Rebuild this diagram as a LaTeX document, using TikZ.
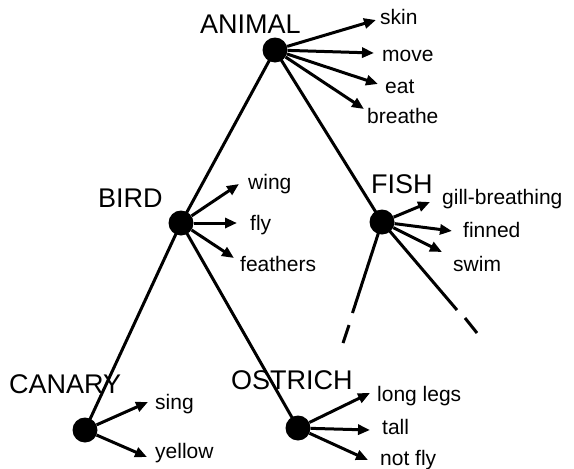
\documentclass[tikz,border=0pt]{standalone}
\usepackage{fontspec}
\setmainfont{Liberation Sans}
\usetikzlibrary{arrows.meta,positioning}

\begin{document}
\begin{tikzpicture}[
	x=1pt, y=-1pt,
	every node/.style={inner sep=0pt, anchor=base west},
	dot/.style={circle, fill=black, minimum size=25pt, anchor=center},
	concept/.style={font=\fontsize{27}{32}\selectfont},
	prop/.style={font=\fontsize{21}{25}\selectfont},
	link/.style={line width=3pt},
	arrow/.style={-{Triangle[length=12pt,width=10pt]}, line width=3pt}
	]
	\useasboundingbox (0,0) rectangle (574,469);
	
	% the concept nodes
	\node[dot] (animal) at (275,50) {};
	\node[dot] (bird) at (181,223) {};
	\node[dot] (fish) at (382,222) {};
	\node[dot] (canary) at (85,430) {};
	\node[dot] (ostrich) at (298,428) {};
	
	\node[concept] (animal-lbl) at (200,33) {ANIMAL};
	\node[concept] (bird-lbl) at (98,207) {BIRD};
	\node[concept] (fish-lbl) at (371,193) {FISH};
	\node[concept] (canary-lbl) at (9,393) {CANARY};
	\node[concept] (ostrich-lbl) at (231,389) {OSTRICH};
	
	% hierarchy
	\draw[link] (animal.center) -- (bird.center);
	\draw[link] (animal.center) -- (fish.center);
	\draw[link] (bird.center) -- (canary.center);
	\draw[link] (bird.center) -- (ostrich.center);
	
	% fish: cut-off links
	\coordinate (fish-l) at (352.5,313);
	\coordinate (fish-l1) at (349,325);
	\coordinate (fish-l2) at (343,343);
	\coordinate (fish-r) at (457,310);
	\coordinate (fish-r1) at (465,318);
	\coordinate (fish-r2) at (477,333);
	\draw[link] (fish.center) -- (fish-l);
	\draw[link] (fish-l1) -- (fish-l2);
	\draw[link] (fish.center) -- (fish-r);
	\draw[link] (fish-r1) -- (fish-r2);
	
	% properties of ANIMAL
	\node[prop] (skin) at (380,24) {skin};
	\node[prop] (move) at (382,61) {move};
	\node[prop] (eat) at (385,93) {eat};
	\node[prop] (breathe) at (367,123) {breathe};
	\coordinate (skin-tip) at (376,20);
	\coordinate (move-tip) at (374,53);
	\coordinate (eat-tip) at (378,84);
	\coordinate (breathe-tip) at (364,109);
	\foreach \p in {skin,move,eat,breathe}
		\draw[arrow] (animal) -- (\p-tip);
	
	% properties of BIRD
	\node[prop] (wing) at (248,189) {wing};
	\node[prop] (fly) at (250,230) {fly};
	\node[prop] (feathers) at (240,271) {feathers};
	\coordinate (wing-tip) at (239,184);
	\coordinate (fly-tip) at (237,223);
	\coordinate (feathers-tip) at (234,258);
	\foreach \p in {wing,fly,feathers}
		\draw[arrow] (bird) -- (\p-tip);
	
	% properties of FISH
	\node[prop] (gill) at (442,204) {gill-breathing};
	\node[prop] (finned) at (463,237) {finned};
	\node[prop] (swim) at (453,271) {swim};
	\coordinate (gill-tip) at (430,202);
	\coordinate (finned-tip) at (452,231);
	\coordinate (swim-tip) at (442,252);
	\foreach \p in {gill,finned,swim}
		\draw[arrow] (fish) -- (\p-tip);
	
	% properties of CANARY
	\node[prop] (sing) at (155,409) {sing};
	\node[prop] (yellow) at (155,458) {yellow};
	\coordinate (sing-tip) at (148,402);
	\coordinate (yellow-tip) at (147,457);
	\foreach \p in {sing,yellow}
		\draw[arrow] (canary) -- (\p-tip);
	
	% properties of OSTRICH
	\node[prop] (legs) at (377,401) {long legs};
	\node[prop] (tall) at (382,434) {tall};
	\node[prop] (notfly) at (380,465) {not fly};
	\coordinate (legs-tip) at (370,393);
	\coordinate (tall-tip) at (370,430);
	\coordinate (notfly-tip) at (368,460);
	\foreach \p in {legs,tall,notfly}
		\draw[arrow] (ostrich) -- (\p-tip);
	
\end{tikzpicture}
\end{document}
